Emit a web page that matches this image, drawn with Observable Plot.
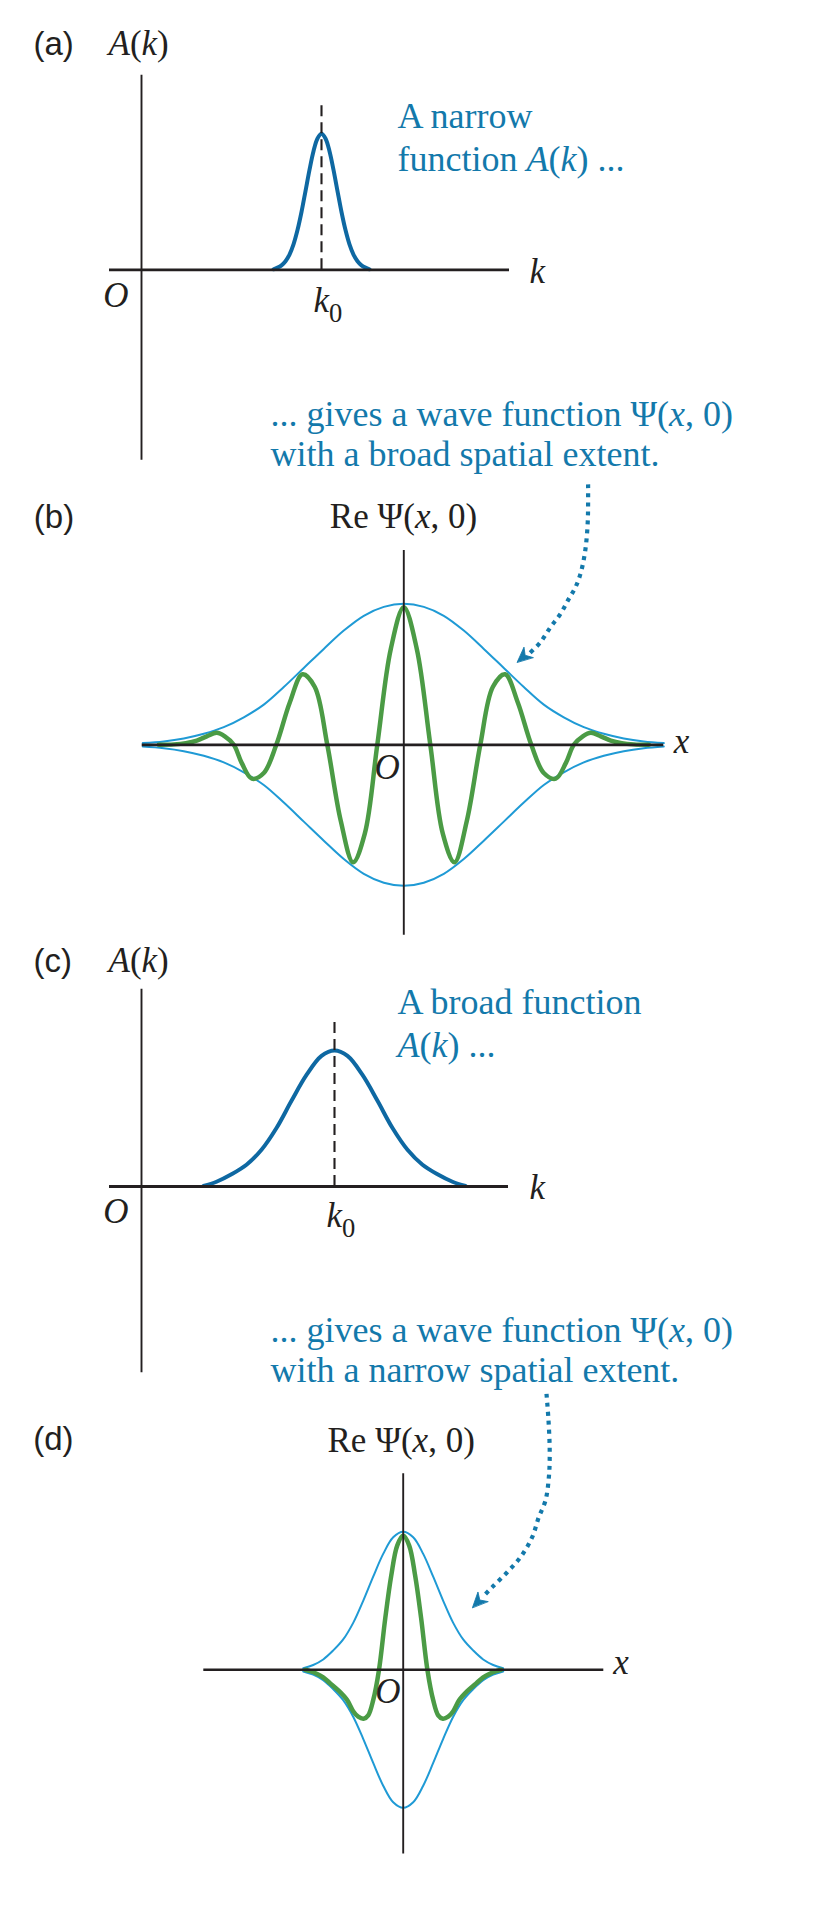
<!DOCTYPE html>
<html lang="en">
<head>
<meta charset="utf-8">
<title>Wave packets: A(k) and Re Ψ(x, 0)</title>
<script src="https://cdn.jsdelivr.net/npm/d3@7"></script>
<script src="https://cdn.jsdelivr.net/npm/@observablehq/plot@0.6"></script>
<style>
  html, body { margin: 0; padding: 0; background: #fff; }
  #figure { width: 820px; }
  #figure svg { display: block; }
</style>
</head>
<body>
<div id="figure"></div>
<script>
// ---------------- values ----------------
// (a) narrow spectral amplitude A(k), normalised to its peak
const kNarrow   = [1.32, 1.36, 1.40, 1.44, 1.48, 1.52, 1.56, 1.60, 1.64, 1.68, 1.72, 1.76, 1.80,
                   1.84, 1.88, 1.92, 1.96, 2.00, 2.04, 2.08, 2.12, 2.16, 2.20, 2.24, 2.28];
const ampNarrow = [0.004, 0.016, 0.033, 0.063, 0.112, 0.187, 0.292, 0.425, 0.579, 0.735, 0.872, 0.966, 1.00,
                   0.966, 0.872, 0.735, 0.579, 0.425, 0.292, 0.187, 0.112, 0.063, 0.033, 0.016, 0.004];
const k0Narrow  = 1.80;

// (c) broad spectral amplitude A(k)
const kBroad    = [0.62, 0.75, 0.90, 1.05, 1.20, 1.35, 1.50, 1.65, 1.80, 1.93,
                   2.06, 2.21, 2.36, 2.51, 2.66, 2.81, 2.96, 3.11, 3.24];
const ampBroad  = [0.004, 0.035, 0.09, 0.16, 0.27, 0.43, 0.63, 0.82, 0.96, 1.00,
                   0.96, 0.82, 0.63, 0.43, 0.27, 0.16, 0.09, 0.035, 0.004];
const k0Broad   = 1.93;

// (b) wave packet of broad spatial extent: envelope |Ψ| and Re Ψ(x, 0)
const xEnvWide  = [-2.61, -2.4, -2.2, -2.0, -1.8, -1.6, -1.4, -1.2, -1.0, -0.8, -0.6, -0.4, -0.2, 0,
                   0.2, 0.4, 0.6, 0.8, 1.0, 1.2, 1.4, 1.6, 1.8, 2.0, 2.2, 2.4, 2.6];
const envWide   = [0.012, 0.024, 0.045, 0.078, 0.125, 0.195, 0.285, 0.41, 0.545, 0.68, 0.81, 0.915, 0.978, 1,
                   0.978, 0.915, 0.81, 0.68, 0.545, 0.41, 0.285, 0.195, 0.125, 0.078, 0.045, 0.024, 0.012];
const xPsiWide  = [-2.45, -2.30, -2.18, -2.07, -1.97, -1.87, -1.79, -1.70, -1.62, -1.52, -1.40, -1.275,
                   -1.14, -1.013, -0.89, -0.765, -0.63, -0.507, -0.39, -0.265, -0.13, 0,
                   0.13, 0.265, 0.39, 0.507, 0.63, 0.765, 0.89, 1.013, 1.14, 1.275,
                   1.40, 1.52, 1.62, 1.70, 1.79, 1.87, 1.97, 2.07, 2.18, 2.30, 2.45];
const psiWide   = [0, 0.003, 0.012, 0.03, 0.06, 0.085, 0.06, 0, -0.13, -0.24, -0.20, 0,
                   0.30, 0.50, 0.41, 0, -0.54, -0.833, -0.63, 0, 0.68, 0.975,
                   0.68, 0, -0.63, -0.833, -0.54, 0, 0.41, 0.50, 0.30, 0,
                   -0.20, -0.24, -0.13, 0, 0.06, 0.085, 0.06, 0.03, 0.012, 0.003, 0];

// (d) wave packet of narrow spatial extent
const xEnvSlim  = [-1.0, -0.9, -0.8, -0.7, -0.6, -0.5, -0.4, -0.3, -0.2, -0.1, 0,
                   0.1, 0.2, 0.3, 0.4, 0.5, 0.6, 0.7, 0.8, 0.9, 1.0];
const envSlim   = [0.012, 0.035, 0.075, 0.14, 0.22, 0.34, 0.50, 0.675, 0.84, 0.96, 1,
                   0.96, 0.84, 0.675, 0.50, 0.34, 0.22, 0.14, 0.075, 0.035, 0.012];
const xPsiSlim  = [-0.98, -0.93, -0.86, -0.80, -0.727, -0.64, -0.56, -0.50, -0.45, -0.397, -0.35, -0.30,
                   -0.242, -0.18, -0.12, -0.06, 0, 0.06, 0.12, 0.18, 0.242,
                   0.30, 0.35, 0.397, 0.45, 0.50, 0.56, 0.64, 0.727, 0.80, 0.86, 0.93, 0.98];
const psiSlim   = [0, -0.01, -0.03, -0.055, -0.10, -0.155, -0.22, -0.30, -0.34, -0.355, -0.33, -0.22,
                   0, 0.37, 0.68, 0.90, 0.973, 0.90, 0.68, 0.37, 0,
                   -0.22, -0.33, -0.355, -0.34, -0.30, -0.22, -0.155, -0.10, -0.055, -0.03, -0.01, 0];

// dotted call-out arrows (panel units) and their heads
const calloutWideX = [1.843, 1.843, 1.840, 1.828, 1.807, 1.767, 1.717, 1.650, 1.567, 1.467, 1.367, 1.262];
const calloutWideY = [1.847, 1.709, 1.591, 1.461, 1.343, 1.213, 1.118, 1.035, 0.929, 0.834, 0.728, 0.652];
const calloutSlimX = [1.433, 1.453, 1.465, 1.458, 1.423, 1.356, 1.290, 1.173, 1.040, 0.890, 0.790];
const calloutSlimY = [2.000, 1.807, 1.589, 1.408, 1.227, 1.106, 0.961, 0.816, 0.707, 0.599, 0.525];
const headWide = {x: 1.134, y: 0.586, angle: 229};
const headSlim = {x: 0.693, y: 0.451, angle: 224};

// text
const panelTags = ["(a)", "(b)", "(c)", "(d)"];
const ampLabel  = "*A*(*k*)";
const psiLabel  = "Re Ψ(*x*, 0)";
const originTag = "*O*";
const k0Tag     = "*k*_{0}";
const kTag      = "*k*";
const xTag      = "*x*";
const notes = {
  narrowA: "A narrow\nfunction *A*(*k*) ...",
  wideX:   "... gives a wave function Ψ(*x*, 0)\nwith a broad spatial extent.",
  broadA:  "A broad function\n*A*(*k*) ...",
  slimX:   "... gives a wave function Ψ(*x*, 0)\nwith a narrow spatial extent."
};

// ---------------- styling ----------------
const W = 820;
const INK = "#231f20", AMP = "#0e68a2", ENV = "#1f9ad5", WAVE = "#4b9b45", NOTE = "#1379ab";
const SERIF = "'Liberation Serif', 'Times New Roman', serif";
const SANS = "'Liberation Sans', Arial, sans-serif";

const zip = (xs, ys) => xs.map((x, i) => ({x, y: ys[i]}));

// maps the panel's data origin to (ox, oy) pixels with sx, sy pixels per unit
function frame(height, ox, oy, sx, sy) {
  return {
    width: W, height, margin: 0,
    x: {domain: [-ox / sx, (W - ox) / sx], axis: null},
    y: {domain: [(oy - height) / sy, oy / sy], axis: null},
    style: {background: "white", overflow: "visible"}
  };
}

// *…* → italic run, _{…} → subscript run
function richify(svg) {
  const NS = "http://www.w3.org/2000/svg";
  svg.querySelectorAll("text").forEach((t) => {
    const lines = t.querySelectorAll("tspan");
    const targets = lines.length ? Array.from(lines) : [t];
    targets.forEach((el) => {
      const s = el.textContent;
      if (!/\*|_\{/.test(s)) return;
      el.textContent = "";
      for (const part of s.split(/(\*[^*]+\*|_\{[^}]+\})/)) {
        if (!part) continue;
        const ts = document.createElementNS(NS, "tspan");
        if (part.startsWith("*")) {
          ts.setAttribute("font-style", "italic");
          ts.textContent = part.slice(1, -1);
        } else if (part.startsWith("_{")) {
          ts.setAttribute("font-size", "0.76em");
          ts.setAttribute("font-style", "normal");
          ts.setAttribute("dy", "10");
          ts.textContent = part.slice(2, -1);
        } else {
          ts.textContent = part;
        }
        el.appendChild(ts);
      }
    });
  });
}

// a single text label placed in data units
function label(text, x, y, o = {}) {
  return Plot.text([{text, x, y}], {
    x: "x", y: "y", text: "text",
    textAnchor: o.anchor ?? "start", lineAnchor: "bottom",
    fontFamily: o.font ?? SERIF, fontSize: o.size ?? 35,
    fill: o.fill ?? INK, lineHeight: o.lineHeight ?? 1
  });
}

// axis cross: horizontal [x1, x2] at y = 0, vertical [y1, y2] at x = 0
function axes(xr, yr, hw = 2.8, vw = 1.9) {
  return [
    Plot.ruleY([0], {x1: xr[0], x2: xr[1], stroke: INK, strokeWidth: hw}),
    Plot.ruleX([0], {y1: yr[0], y2: yr[1], stroke: INK, strokeWidth: vw})
  ];
}

const barbHead = {
  draw(context, l) {
    const w = l * 0.46;
    context.moveTo(0, -l);
    context.lineTo(w, 0);
    context.lineTo(0, -l * 0.3);
    context.lineTo(-w, 0);
    context.closePath();
  }
};

function callout(xs, ys, head) {
  return [
    Plot.line(zip(xs, ys), {x: "x", y: "y", curve: "catmull-rom", stroke: NOTE,
      strokeWidth: 4.2, strokeDasharray: "4,5", strokeLinecap: "butt"}),
    Plot.vector([head], {x: "x", y: "y", rotate: "angle", length: 15, anchor: "end",
      shape: barbHead, fill: NOTE, stroke: NOTE, strokeWidth: 0.8})
  ];
}

function render(options) {
  const svg = Plot.plot(options);
  richify(svg);
  document.getElementById("figure").append(svg);
}

// ---------------- (a) narrow A(k) ----------------
render({
  ...frame(480, 141, 269.3, 100, 136),
  marks: [
    Plot.line(zip(kNarrow, ampNarrow), {x: "x", y: "y", curve: "catmull-rom", stroke: AMP, strokeWidth: 4}),
    Plot.ruleX([k0Narrow], {y1: 0, y2: 1.25, stroke: INK, strokeWidth: 2.1, strokeDasharray: "11,6"}),
    ...axes([-0.32, 3.68], [-1.40, 1.43]),
    label(panelTags[0], -1.08, 1.58, {font: SANS, size: 33}),
    label(ampLabel, -0.33, 1.58),
    label(originTag, -0.13, -0.27, {anchor: "end"}),
    label(k0Tag, 1.72, -0.31),
    label(kTag, 3.88, -0.10),
    label(notes.narrowA, 2.56, 0.73, {fill: NOTE, size: 36, lineHeight: 1.17}),
    label(notes.wideX, 1.29, -1.44, {fill: NOTE, size: 36, lineHeight: 1.11})
  ]
});

// ---------------- (b) broad Ψ(x, 0) ----------------
render({
  ...frame(480, 403.3, 264.3, 100, 141),
  marks: [
    Plot.line(zip(xEnvWide, envWide), {x: "x", y: "y", curve: "catmull-rom", stroke: ENV, strokeWidth: 2}),
    Plot.line(zip(xEnvWide, envWide), {x: "x", y: (d) => -d.y, curve: "catmull-rom", stroke: ENV, strokeWidth: 2}),
    Plot.line(zip(xPsiWide, psiWide), {x: "x", y: "y", curve: "catmull-rom", stroke: WAVE, strokeWidth: 4.5}),
    ...axes([-2.616, 2.60], [-1.35, 1.378]),
    ...callout(calloutWideX, calloutWideY, headWide),
    label(panelTags[1], -3.70, 1.54, {font: SANS, size: 33}),
    label(psiLabel, -0.74, 1.54),
    label(originTag, -0.04, -0.24, {anchor: "end"}),
    label(xTag, 2.70, -0.06)
  ]
});

// ---------------- (c) broad A(k) ----------------
render({
  ...frame(433, 141, 226, 100, 136),
  marks: [
    Plot.line(zip(kBroad, ampBroad), {x: "x", y: "y", curve: "catmull-rom", stroke: AMP, strokeWidth: 4}),
    Plot.ruleX([k0Broad], {y1: 0, y2: 1.25, stroke: INK, strokeWidth: 2.1, strokeDasharray: "11,6"}),
    ...axes([-0.32, 3.67], [-1.37, 1.45]),
    label(panelTags[2], -1.08, 1.58, {font: SANS, size: 33}),
    label(ampLabel, -0.33, 1.58),
    label(originTag, -0.13, -0.27, {anchor: "end"}),
    label(k0Tag, 1.85, -0.30),
    label(kTag, 3.88, -0.09),
    label(notes.broadA, 2.56, 0.95, {fill: NOTE, size: 36, lineHeight: 1.19}),
    label(notes.slimX, 1.29, -1.44, {fill: NOTE, size: 36, lineHeight: 1.11})
  ]
});

// ---------------- (d) narrow Ψ(x, 0) ----------------
render({
  ...frame(519, 402.7, 276.3, 100, 138),
  marks: [
    Plot.line(zip(xEnvSlim, envSlim), {x: "x", y: "y", curve: "catmull-rom", stroke: ENV, strokeWidth: 2}),
    Plot.line(zip(xEnvSlim, envSlim), {x: "x", y: (d) => -d.y, curve: "catmull-rom", stroke: ENV, strokeWidth: 2}),
    Plot.line(zip(xPsiSlim, psiSlim), {x: "x", y: "y", curve: "catmull-rom", stroke: WAVE, strokeWidth: 4.5}),
    ...axes([-1.994, 2.006], [-1.335, 1.42], 2.4, 1.9),
    ...callout(calloutSlimX, calloutSlimY, headSlim),
    label(panelTags[3], -3.70, 1.59, {font: SANS, size: 33}),
    label(psiLabel, -0.757, 1.58),
    label(originTag, -0.027, -0.244, {anchor: "end"}),
    label(xTag, 2.10, -0.03)
  ]
});
</script>
</body>
</html>
